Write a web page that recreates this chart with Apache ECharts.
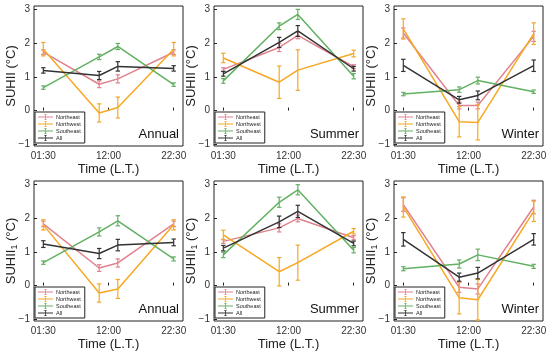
<!DOCTYPE html>
<html><head><meta charset="utf-8">
<script src="https://cdn.jsdelivr.net/npm/echarts@6/dist/echarts.min.js"></script>
<style>html,body{margin:0;padding:0;background:#fff}#c{width:550px;height:355px}</style>
</head><body><div id="c"></div>
<script>
const times = [1.5, 10.5, 13.5, 22.5];
const tickHours = [1.5, 12, 22.5];
const tickLabels = ['01:30', '12:00', '22:30'];
const yTicks = [-1, 0, 1, 2, 3];
const regions = ['Northeast', 'Northwest', 'Southeast', 'All'];
const seasons = ['Annual', 'Summer', 'Winter', 'Annual', 'Summer', 'Winter'];

// Row 1: SUHII
const annualNE = [1.73, 0.78, 0.94, 1.73];   const annualNEerr = [0.07, 0.10, 0.12, 0.07];
const annualNW = [1.82, -0.07, 0.09, 1.82];  const annualNWerr = [0.20, 0.27, 0.31, 0.20];
const annualSE = [0.68, 1.59, 1.90, 0.77];   const annualSEerr = [0.05, 0.08, 0.09, 0.05];
const annualAll = [1.19, 1.04, 1.31, 1.25];  const annualAllerr = [0.08, 0.12, 0.14, 0.08];

const summerNE = [1.22, 1.87, 2.23, 1.30];   const summerNEerr = [0.05, 0.12, 0.10, 0.06];
const summerNW = [1.56, 0.84, 1.20, 1.69];   const summerNWerr = [0.14, 0.48, 0.60, 0.10];
const summerSE = [0.88, 2.50, 2.85, 1.02];   const summerSEerr = [0.07, 0.10, 0.15, 0.08];
const summerAll = [1.09, 2.02, 2.36, 1.24];  const summerAllerr = [0.07, 0.15, 0.16, 0.07];

const winterNE = [2.30, 0.15, 0.15, 2.20];   const winterNEerr = [0.15, 0.10, 0.10, 0.15];
const winterNW = [2.42, -0.33, -0.35, 2.28]; const winterNWerr = [0.30, 0.45, 0.52, 0.32];
const winterSE = [0.49, 0.62, 0.89, 0.56];   const winterSEerr = [0.05, 0.08, 0.10, 0.05];
const winterAll = [1.34, 0.32, 0.45, 1.33];  const winterAllerr = [0.18, 0.10, 0.13, 0.17];

// Row 2: SUHII1
const annual1NE = [1.83, 0.52, 0.67, 1.83];   const annual1NEerr = [0.08, 0.10, 0.12, 0.08];
const annual1NW = [1.80, -0.22, -0.10, 1.80]; const annual1NWerr = [0.15, 0.27, 0.28, 0.15];
const annual1SE = [0.68, 1.59, 1.92, 0.79];   const annual1SEerr = [0.05, 0.12, 0.15, 0.06];
const annual1All = [1.23, 0.95, 1.20, 1.28];  const annual1Allerr = [0.10, 0.15, 0.17, 0.10];

const summer1NE = [1.31, 1.71, 1.99, 1.42];   const summer1NEerr = [0.06, 0.12, 0.10, 0.06];
const summer1NW = [1.50, 0.41, 0.68, 1.61];   const summer1NWerr = [0.14, 0.42, 0.52, 0.08];
const summer1SE = [0.91, 2.47, 2.84, 1.05];   const summer1SEerr = [0.08, 0.15, 0.15, 0.08];
const summer1All = [1.11, 1.89, 2.20, 1.25];  const summer1Allerr = [0.08, 0.17, 0.18, 0.07];

const winter1NE = [2.40, -0.05, -0.10, 2.33];  const winter1NEerr = [0.20, 0.15, 0.15, 0.20];
const winter1NW = [2.33, -0.36, -0.42, 2.20];  const winter1NWerr = [0.30, 0.48, 0.60, 0.30];
const winter1SE = [0.50, 0.64, 0.91, 0.57];    const winter1SEerr = [0.06, 0.12, 0.17, 0.06];
const winter1All = [1.37, 0.25, 0.37, 1.37];   const winter1Allerr = [0.20, 0.12, 0.17, 0.17];

const panels = [
  [[annualNE, annualNEerr], [annualNW, annualNWerr], [annualSE, annualSEerr], [annualAll, annualAllerr]],
  [[summerNE, summerNEerr], [summerNW, summerNWerr], [summerSE, summerSEerr], [summerAll, summerAllerr]],
  [[winterNE, winterNEerr], [winterNW, winterNWerr], [winterSE, winterSEerr], [winterAll, winterAllerr]],
  [[annual1NE, annual1NEerr], [annual1NW, annual1NWerr], [annual1SE, annual1SEerr], [annual1All, annual1Allerr]],
  [[summer1NE, summer1NEerr], [summer1NW, summer1NWerr], [summer1SE, summer1SEerr], [summer1All, summer1Allerr]],
  [[winter1NE, winter1NEerr], [winter1NW, winter1NWerr], [winter1SE, winter1SEerr], [winter1All, winter1Allerr]]
];

const colors = ['#e0828e', '#f7a823', '#62b062', '#333333'];
const FONT = '"Liberation Sans", Arial, sans-serif';
const colLeft = [34, 214, 394];
const rowTop = [6, 181];
const GW = 149, GH = 140;

const grids = [], xAxes = [], yAxes = [], series = [], legends = [], graphics = [];
for (let p = 0; p < 6; p++) {
  const r = Math.floor(p / 3), c = p % 3;
  const L = colLeft[c], T = rowTop[r];
  grids.push({left: L, top: T, width: GW, height: GH, show: true, borderColor: '#222', borderWidth: 1, backgroundColor: 'transparent'});
  xAxes.push({
    gridIndex: p, type: 'value', min: 0, max: 24,
    axisLine: {show: false}, splitLine: {show: false},
    axisTick: {show: true, inside: true, length: 3, customValues: tickHours, lineStyle: {color: '#222'}},
    axisLabel: {customValues: tickHours, margin: 5, fontSize: 10, color: '#333', fontFamily: FONT,
      formatter: v => tickLabels[tickHours.indexOf(v)] || ''},
    name: 'Time (L.T.)', nameLocation: 'middle', nameGap: 17, nameMoveOverlap: false,
    nameTextStyle: {fontSize: 13, color: '#222', fontFamily: FONT}
  });
  yAxes.push({
    gridIndex: p, type: 'value', min: -1.05, max: 3.1,
    axisLine: {show: false}, splitLine: {show: false},
    axisTick: {show: true, inside: true, length: 3, customValues: yTicks, lineStyle: {color: '#222'}},
    axisLabel: {customValues: yTicks, margin: 4, fontSize: 10, color: '#333', fontFamily: FONT,
      formatter: v => (v < 0 ? '\u2212' + Math.abs(v) : String(v))},
    name: r === 0 ? 'SUHII (°C)' : 'SUHII{sub|1} (°C)',
    nameLocation: 'middle', nameGap: 15, nameMoveOverlap: false,
    nameTextStyle: {fontSize: 13, color: '#222', fontFamily: FONT, lineHeight: 16,
      rich: {sub: {fontSize: 9, lineHeight: 16, verticalAlign: 'bottom', padding: [7, 0, 0, 0], color: '#222', fontFamily: FONT}}}
  });
  for (let k = 0; k < 4; k++) {
    const vals = panels[p][k][0], errs = panels[p][k][1];
    series.push({
      type: 'line', name: regions[k], xAxisIndex: p, yAxisIndex: p,
      data: times.map((t, i) => [t, vals[i]]),
      showSymbol: false, symbol: 'none', color: colors[k],
      lineStyle: {width: 1.5, color: colors[k]}, itemStyle: {color: colors[k]},
      z: 2 + k, animation: false
    });
    series.push({
      type: 'custom', name: regions[k], xAxisIndex: p, yAxisIndex: p,
      data: times.map((t, i) => [t, vals[i], errs[i]]),
      encode: {x: 0, y: 1}, z: 2 + k, animation: false, color: colors[k],
      renderItem: (params, api) => {
        const x = api.value(0), y = api.value(1), e = api.value(2);
        const a = api.coord([x, y + e]), b = api.coord([x, y - e]);
        const st = {stroke: colors[k], lineWidth: 1.2};
        return {type: 'group', children: [
          {type: 'line', shape: {x1: a[0], y1: a[1], x2: b[0], y2: b[1]}, style: st},
          {type: 'line', shape: {x1: a[0] - 2.2, y1: a[1], x2: a[0] + 2.2, y2: a[1]}, style: st},
          {type: 'line', shape: {x1: b[0] - 2.2, y1: b[1], x2: b[0] + 2.2, y2: b[1]}, style: st}
        ]};
      }
    });
  }
  legends.push({
    data: regions, orient: 'vertical', left: L + 1, top: T + GH - 34,
    itemWidth: 15, itemHeight: 6, itemGap: 1, padding: [2, 4, 2, 3],
    icon: 'path://M0,2.6H15V3.4H0Z M7.1,0H7.9V6H7.1Z M6,0H9V0.6H6Z M6,5.4H9V6H6Z',
    borderColor: '#222', borderWidth: 1, backgroundColor: '#fff', borderRadius: 0,
    textStyle: {fontSize: 5.5, lineHeight: 6, color: '#222', fontFamily: FONT, padding: [0, 0, 0, -2]},
    selectedMode: false, itemStyle: {borderWidth: 0}, lineStyle: {width: 0}
  });
  graphics.push({
    type: 'text', right: 550 - (L + GW - 4), top: T + GH - 18, z: 10,
    style: {text: seasons[p], fontSize: 13, fill: '#111', fontFamily: FONT}
  });
}

const chart = echarts.init(document.getElementById('c'), null, {renderer: 'canvas'});
chart.setOption({
  animation: false, backgroundColor: '#fff',
  grid: grids, xAxis: xAxes, yAxis: yAxes, series: series, legend: legends, graphic: graphics
});
</script></body></html>
